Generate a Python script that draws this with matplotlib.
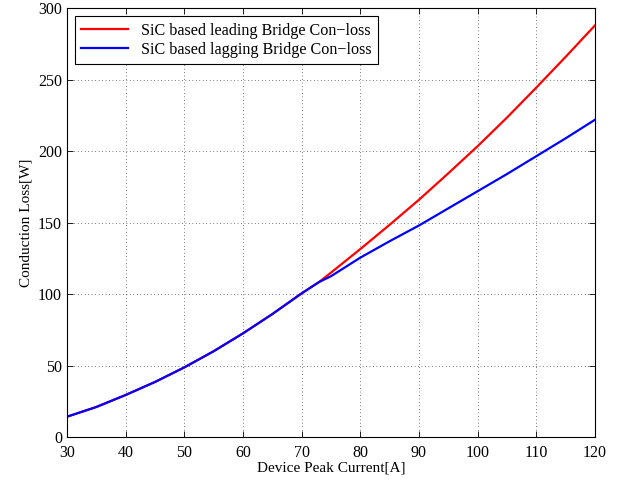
import matplotlib
matplotlib.use("Agg")
import matplotlib.pyplot as plt

current = [30, 35, 40, 45, 50, 55, 60, 65, 70, 73, 75, 80, 85, 90, 95, 100, 105, 110, 115, 120]
leading = [14.2, 21, 29.4, 38.5, 48.7, 60, 72.5, 86, 100.5, 108.5, 115, 131.5, 148.5, 166, 184.5,
           203.5, 223.5, 244.5, 266, 288]
lagging = [14.2, 21, 29.4, 38.5, 48.7, 60, 72.5, 86, 100.5, 108.5, 112.5, 125.5, 137, 148, 160,
           172, 184, 196.5, 209, 222]

plt.rcParams['font.family'] = ['Liberation Serif', 'DejaVu Serif']

fig = plt.figure(figsize=(6.25, 4.84), dpi=100)
ax = fig.add_axes([0.107, 0.097, 0.845, 0.886])

ax.plot(current, leading, color='#ff0000', lw=1.6, label='SiC based leading Bridge Con\u2212loss')
ax.plot(current, lagging, color='#0000ff', lw=1.6, label='SiC based lagging Bridge Con\u2212loss')

ax.set_xlim(30, 120)
ax.set_ylim(0, 300)
ax.set_xticks(range(30, 121, 10))
ax.set_yticks(range(0, 301, 50))
ax.grid(True, color='black', linestyle=(0, (1, 4)), linewidth=0.5)
ax.tick_params(direction='in', top=True, right=True, labelsize=11.5, length=4, width=0.6)
ax.tick_params(axis='x', pad=6)
for s in ax.spines.values():
    s.set_linewidth(0.8)

ax.set_xlabel('Device Peak Current[A]', fontsize=11, labelpad=0)
ax.set_ylabel('Conduction Loss[W]', fontsize=11, labelpad=4)

leg = ax.legend(loc='upper left', fontsize=11.6, fancybox=False, framealpha=1,
                edgecolor='black', borderaxespad=0.5, handlelength=2.9, labelspacing=0.2)
leg.get_frame().set_linewidth(0.8)

fig.savefig('out.png', dpi=100)
